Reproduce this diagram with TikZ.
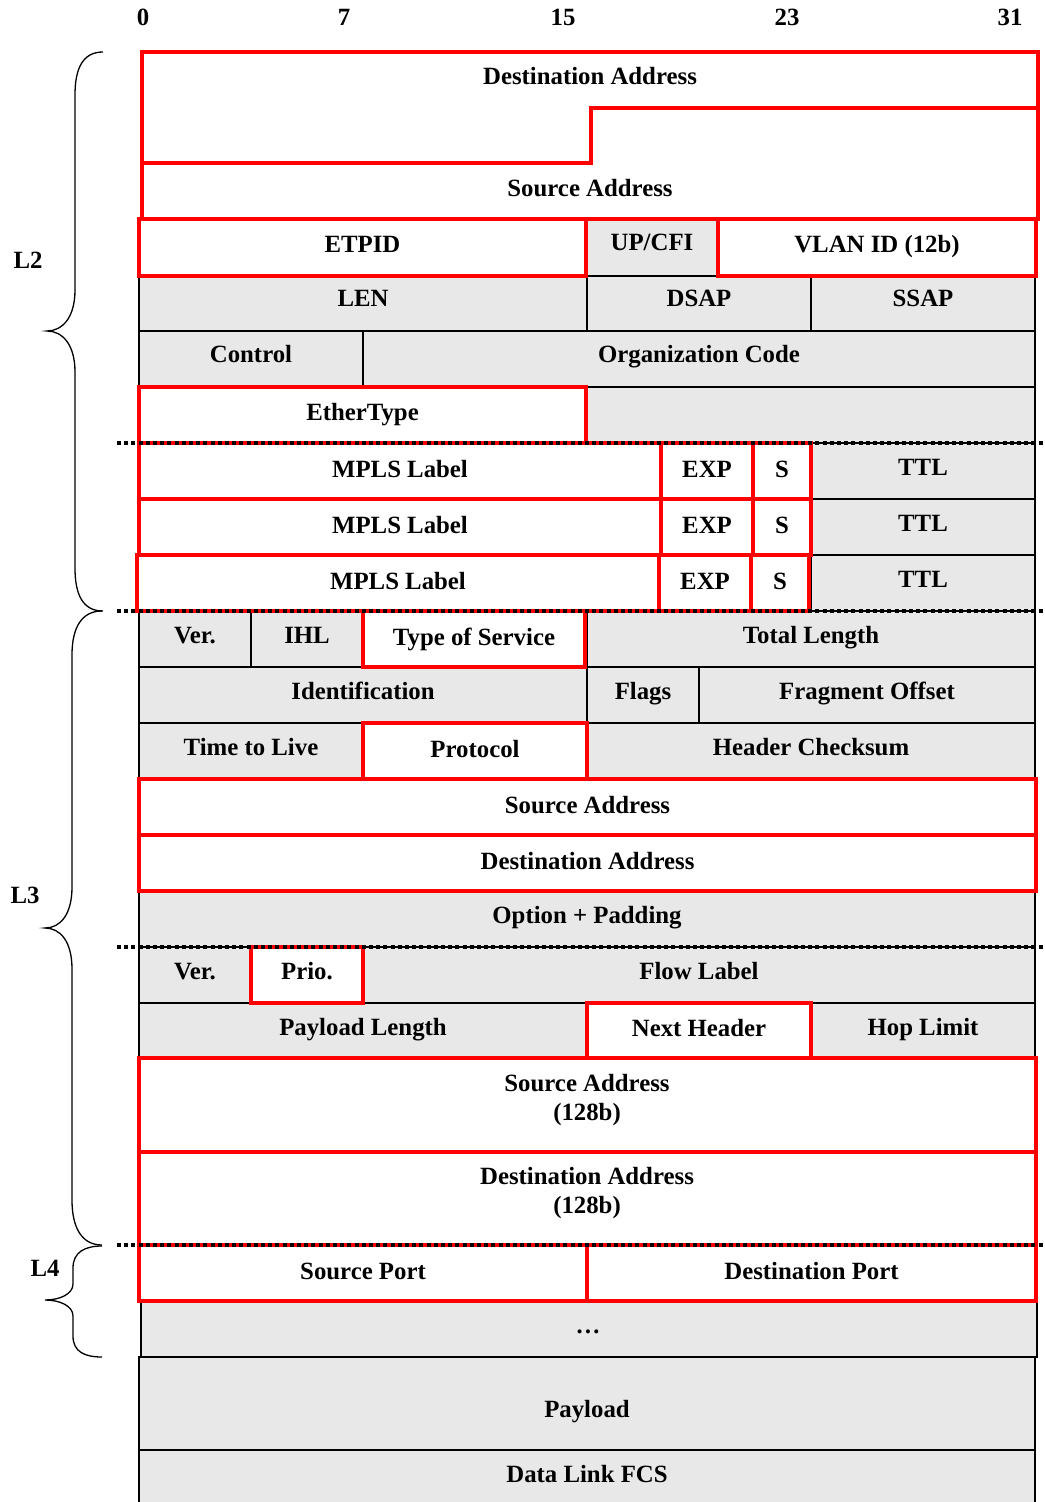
\documentclass[tikz,border=0pt]{standalone}
\usepackage{fontspec}
\setmainfont{Liberation Serif}
\definecolor{cellgray}{RGB}{232,232,232}
\definecolor{boxred}{RGB}{255,0,0}
\tikzset{
  gcell/.style={fill=cellgray,draw=black,line width=0.75pt},
  rcell/.style={fill=white,draw=boxred,line width=2pt,line join=miter},
  lbl/.style={font=\fontsize{12.4}{14.5}\selectfont\bfseries,inner sep=0pt,anchor=base,align=center},
  lbltwo/.style={font=\fontsize{12.4}{14.5}\selectfont\bfseries,inner sep=0pt,anchor=center,align=center},
  sepline/.style={draw=black,line width=2pt,dash pattern=on 2pt off 1.6pt},
  brc/.style={draw=black,line width=0.65pt},
}
\newcommand\fcell[8]{\path[#2] (#3,#4) rectangle (#5,#6); \node[lbl] (#1) at ({(#3+#5)/2},{#7+8}) {#8};}
\begin{document}
\begin{tikzpicture}[x=0.5pt,y=-0.5pt]
\useasboundingbox (0,0) rectangle (1044,1502);

% bit numbers
\node[lbl] (b0) at (143,26) {0};
\node[lbl] (b7) at (344,26) {7};
\node[lbl] (b15) at (563,26) {15};
\node[lbl] (b23) at (787,26) {23};
\node[lbl] (b31) at (1010,26) {31};

% ---------- gray cells ----------
\fcell{upcfi}{gcell}{587}{219}{717}{276}{243}{UP/CFI}
\fcell{len}{gcell}{139}{276}{587}{331}{299}{LEN}
\fcell{dsap}{gcell}{587}{276}{811}{331}{299}{DSAP}
\fcell{ssap}{gcell}{811}{276}{1035}{331}{299}{SSAP}
\fcell{ctrl}{gcell}{139}{331}{363}{387}{355}{Control}
\fcell{org}{gcell}{363}{331}{1035}{387}{355}{Organization Code}
\path[gcell] (587,387) rectangle (1035,443);
\fcell{ttla}{gcell}{811}{443}{1035}{499}{467}{TTL}
\fcell{ttlb}{gcell}{811}{499}{1035}{555}{523}{TTL}
\fcell{ttlc}{gcell}{811}{555}{1035}{611}{579}{TTL}
\fcell{ver4}{gcell}{139}{611}{251}{667}{635}{Ver.}
\fcell{ihl}{gcell}{251}{611}{363}{667}{635}{IHL}
\fcell{totlen}{gcell}{587}{611}{1035}{667}{635}{Total Length}
\fcell{ident}{gcell}{139}{667}{587}{723}{691}{Identification}
\fcell{flags}{gcell}{587}{667}{699}{723}{691}{Flags}
\fcell{frag}{gcell}{699}{667}{1035}{723}{691}{Fragment Offset}
\fcell{ttl4}{gcell}{139}{723}{363}{779}{747}{Time to Live}
\fcell{chk}{gcell}{587}{723}{1035}{779}{747}{Header Checksum}
\fcell{opt}{gcell}{139}{891}{1035}{947}{915}{Option + Padding}
\fcell{ver6}{gcell}{139}{947}{251}{1003}{971}{Ver.}
\fcell{flow}{gcell}{363}{947}{1035}{1003}{971}{Flow Label}
\fcell{plen}{gcell}{139}{1003}{587}{1058}{1027}{Payload Length}
\fcell{hop}{gcell}{811}{1003}{1035}{1058}{1027}{Hop Limit}
\path[gcell] (141,1301) rectangle (1037,1357);
\node[lbl] (dots) at (588,1333) {\dots};
\fcell{payload}{gcell}{139}{1357}{1035}{1450}{1409}{Payload}
\fill[cellgray] (139,1450) rectangle (1035,1502);
\draw[line width=0.75pt] (139,1502) -- (139,1450) -- (1035,1450) -- (1035,1502);
\node[lbl] (fcs) at (587,1482) {Data Link FCS};

% ---------- red cells ----------
\path[rcell] (142,52) -- (1038,52) -- (1038,108) -- (591,108) -- (591,163) -- (142,163) -- cycle;
\node[lbl] (dstmac) at (590,85) {Destination Address};
\path[rcell] (142,163) -- (591,163) -- (591,108) -- (1038,108) -- (1038,219) -- (142,219) -- cycle;
\node[lbl] (srcmac) at (590,197) {Source Address};
\fcell{etpid}{rcell}{139}{219}{586}{276}{245}{ETPID}
\fcell{vlan}{rcell}{718}{219}{1036}{276}{245}{VLAN ID (12b)}
\fcell{ethtype}{rcell}{139}{387}{586}{443}{413}{EtherType}
\fcell{mplsa}{rcell}{139}{443}{661}{499}{469}{MPLS Label}
\fcell{expa}{rcell}{661}{443}{753}{499}{469}{EXP}
\fcell{sa}{rcell}{753}{443}{811}{499}{469}{S}
\fcell{mplsb}{rcell}{139}{499}{661}{555}{525}{MPLS Label}
\fcell{expb}{rcell}{661}{499}{753}{555}{525}{EXP}
\fcell{sb}{rcell}{753}{499}{811}{555}{525}{S}
\fcell{mplsc}{rcell}{137}{555}{659}{611}{581}{MPLS Label}
\fcell{expc}{rcell}{659}{555}{751}{611}{581}{EXP}
\fcell{sc}{rcell}{751}{555}{809}{611}{581}{S}
\fcell{tos}{rcell}{363}{611}{585}{667}{637}{Type of Service}
\fcell{proto}{rcell}{363}{723}{587}{779}{749}{Protocol}
\fcell{src4}{rcell}{139}{779}{1036}{835}{805}{Source Address}
\fcell{dst4}{rcell}{139}{835}{1036}{891}{861}{Destination Address}
\fcell{prio}{rcell}{251}{947}{363}{1003}{971}{Prio.}
\fcell{nexth}{rcell}{587}{1003}{811}{1058}{1028}{Next Header}
\path[rcell] (139,1058) rectangle (1036,1152);
\node[lbltwo] (src6) at (587,1100) {Source Address\\(128b)};
\path[rcell] (139,1152) rectangle (1036,1245);
\node[lbltwo] (dst6) at (587,1193) {Destination Address\\(128b)};
\fcell{sport}{rcell}{139}{1245}{587}{1301}{1271}{Source Port}
\fcell{dport}{rcell}{587}{1245}{1036}{1301}{1271}{Destination Port}

% ---------- layer separators ----------
\coordinate (s1a) at (117,443); \coordinate (s1b) at (1044,443);
\coordinate (s2a) at (117,611); \coordinate (s2b) at (1044,611);
\coordinate (s3a) at (117,947); \coordinate (s3b) at (1044,947);
\coordinate (s4a) at (117,1245); \coordinate (s4b) at (1044,1245);
\draw[sepline] (s1a) -- (s1b);
\draw[sepline] (s2a) -- (s2b);
\draw[sepline] (s3a) -- (s3b);
\draw[sepline] (s4a) -- (s4b);

% ---------- braces ----------
\draw[brc] (103,52) .. controls (83,52) and (75,68) .. (75,95) -- (75,290)
  .. controls (75,318) and (62,331) .. (47,331)
  .. controls (62,331) and (75,344) .. (75,372) -- (75,568)
  .. controls (75,595) and (83,611) .. (103,611);
\draw[brc] (102,611) .. controls (82,611) and (72,627) .. (72,655) -- (72,887)
  .. controls (72,915) and (60,928) .. (45,928)
  .. controls (60,928) and (72,941) .. (72,969) -- (72,1200)
  .. controls (72,1228) and (82,1245) .. (102,1245);
\draw[brc] (102,1246) .. controls (85,1246) and (73,1252) .. (73,1268) -- (73,1284)
  .. controls (73,1294) and (60,1300) .. (45,1300)
  .. controls (60,1300) and (73,1306) .. (73,1316) -- (73,1336)
  .. controls (73,1352) and (85,1357) .. (102,1357);
\node[lbl] (l2) at (28,269) {L2};
\node[lbl] (l3) at (25,903) {L3};
\node[lbl] (l4) at (45,1276) {L4};
\end{tikzpicture}
\end{document}
